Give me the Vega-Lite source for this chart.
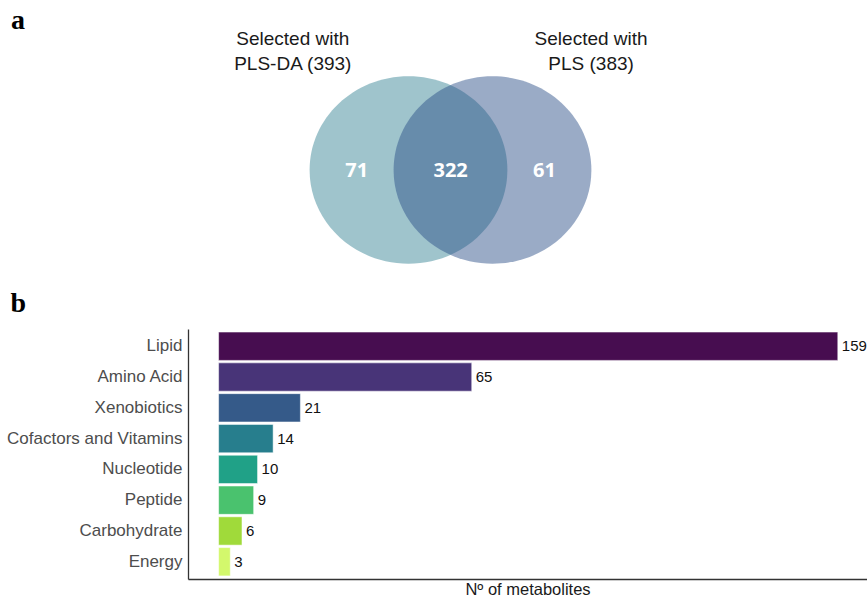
{
  "$schema": "https://vega.github.io/schema/vega-lite/v6.json",
  "padding": {"left": 6, "top": 6, "right": 0, "bottom": 0},
  "background": "white",
  "spacing": 5,
  "config": {"view": {"stroke": null}, "font": "Liberation Sans"},
  "datasets": {
    "sets": [
      {"set": "PLS-DA", "total": 393, "label": "Selected with\nPLS-DA (393)"},
      {"set": "PLS", "total": 383, "label": "Selected with\nPLS (383)"}
    ],
    "regions": [
      {"region": "PLS-DA only", "n": 71},
      {"region": "Both", "n": 322},
      {"region": "PLS only", "n": 61}
    ],
    "classes": [
      {"class": "Lipid", "count": 159},
      {"class": "Amino Acid", "count": 65},
      {"class": "Xenobiotics", "count": 21},
      {"class": "Cofactors and Vitamins", "count": 14},
      {"class": "Nucleotide", "count": 10},
      {"class": "Peptide", "count": 9},
      {"class": "Carbohydrate", "count": 6},
      {"class": "Energy", "count": 3}
    ]
  },
  "vconcat": [
    {
      "width": 679,
      "height": 230,
      "title": {"text": "a", "anchor": "start", "frame": "bounds", "font": "Liberation Serif", "fontWeight": "bold", "fontSize": 28, "color": "#000000", "offset": -4.5, "dx": -177},
      "resolve": {"scale": {"x": "independent", "xOffset": "independent", "fill": "independent", "opacity": "independent"}},
      "layer": [
        {
          "data": {"name": "sets"},
          "mark": {"type": "point", "filled": true, "shape": "M-1,0A1,0.948,0,1,1,1,0A1,0.948,0,1,1,-1,0Z", "size": 39125, "strokeWidth": 0},
          "encoding": {
            "x": {"datum": "Venn", "type": "nominal", "scale": {"type": "band", "paddingInner": 0, "paddingOuter": 1, "align": 0.3299}, "axis": null},
            "xOffset": {"field": "set", "type": "nominal", "sort": null, "scale": {"type": "point", "domain": ["PLS-DA", "PLS"], "padding": 0.8472}},
            "fill": {"field": "set", "type": "nominal", "scale": {"domain": ["PLS-DA", "PLS"], "range": ["#9fc4cc", "#2a4e87"]}, "legend": null},
            "opacity": {"field": "set", "type": "nominal", "scale": {"domain": ["PLS-DA", "PLS"], "range": [1, 0.474]}, "legend": null}
          }
        },
        {
          "data": {"name": "sets"},
          "mark": {"type": "text", "lineBreak": "\n", "fontSize": 19, "font": "Liberation Sans", "color": "#1a1a1a", "baseline": "middle", "lineHeight": 24.5, "dy": -130.8},
          "encoding": {
            "x": {"field": "set", "type": "nominal", "sort": null, "scale": {"type": "point", "domain": ["PLS-DA", "PLS"], "padding": 0.6381, "align": 0.2753}, "axis": null},
            "text": {"field": "label", "type": "nominal"}
          }
        },
        {
          "data": {"name": "regions"},
          "mark": {"type": "text", "font": "Open Sans", "fontWeight": "bold", "fontSize": 20, "color": "#ffffff", "baseline": "middle", "dy": 1},
          "encoding": {
            "x": {"datum": "Venn", "type": "nominal", "scale": {"type": "band", "paddingInner": 0, "paddingOuter": 1, "align": 0.3302}, "axis": null},
            "xOffset": {"field": "region", "type": "nominal", "sort": null, "scale": {"type": "point", "domain": ["PLS-DA only", "Both", "PLS only"], "padding": 0.2058}},
            "text": {"field": "n", "type": "quantitative"}
          }
        }
      ]
    },
    {
      "width": 679,
      "height": 250,
      "title": {"text": "b", "anchor": "start", "frame": "bounds", "font": "Liberation Serif", "fontWeight": "bold", "fontSize": 28, "color": "#000000", "offset": 11, "dx": 4},
      "data": {"name": "classes"},
      "encoding": {
        "y": {"field": "class", "type": "nominal", "sort": null, "scale": {"paddingInner": 0.08, "paddingOuter": 0.1},
          "axis": {"title": null, "ticks": false, "tickSize": 0, "labelPadding": 6, "labelFontSize": 17, "labelFont": "Liberation Sans", "labelColor": "#4d4d4d", "domainColor": "#333333", "domainWidth": 1.3}},
        "x": {"field": "count", "type": "quantitative", "scale": {"domain": [-7.86, 166.5], "zero": false, "nice": false},
          "axis": {"title": "Nº of metabolites", "labels": false, "ticks": false, "grid": false, "domainColor": "#333333", "domainWidth": 1.3, "titleFontSize": 16.5, "titleFont": "Liberation Sans", "titleFontWeight": "normal", "titleColor": "#1a1a1a", "titlePadding": 2}}
      },
      "layer": [
        {
          "mark": {"type": "bar", "stroke": "#ffffff", "strokeOpacity": 0.5, "strokeWidth": 1},
          "encoding": {
            "x2": {"datum": 0},
            "color": {"field": "class", "type": "nominal", "scale": {"domain": ["Lipid", "Amino Acid", "Xenobiotics", "Cofactors and Vitamins", "Nucleotide", "Peptide", "Carbohydrate", "Energy"], "range": ["#470d50", "#483478", "#355a89", "#277e8d", "#20a187", "#4ac26e", "#a0da3a", "#d3f86c"]}, "legend": null}
          }
        },
        {
          "mark": {"type": "text", "align": "left", "baseline": "middle", "dx": 4, "fontSize": 15, "font": "Liberation Sans", "color": "#111111", "clip": true},
          "encoding": {"text": {"field": "count", "type": "quantitative"}}
        }
      ]
    }
  ]
}
